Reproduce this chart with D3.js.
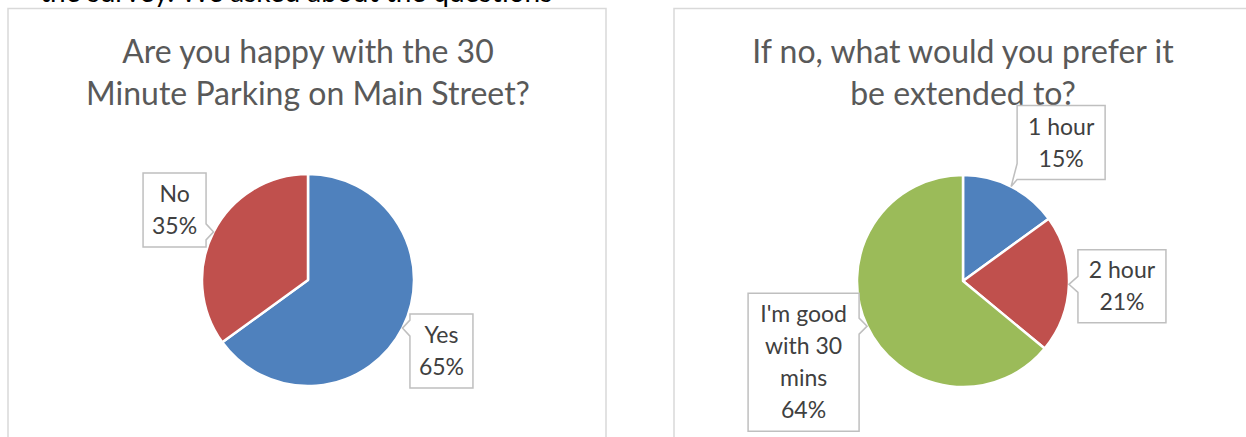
<!DOCTYPE html>
<html>
<head>
<meta charset="utf-8">
<script src="https://cdn.jsdelivr.net/npm/d3@7"></script>
<style>
  body { margin: 0; background: #fff; }
  svg { display: block; }
</style>
</head>
<body>
<script>
// chart data
const happyCategories = ["Yes", "No"];
const happyValues = [65, 35];
const extendCategories = ["1 hour", "2 hour", "I'm good with 30 mins"];
const extendValues = [15, 21, 64];
const extendLabelLines = [["1 hour"], ["2 hour"], ["I'm good", "with 30", "mins"]];
const sliceColors = ["#4f81bd", "#c0504d", "#9bbb59"];

const width = 1246, height = 437;

const svg = d3.select("body")
    .append("svg")
    .attr("width", width)
    .attr("height", height);

// cut-off text from the document above the charts
svg.append("text")
    .attr("x", 40)
    .attr("y", 2)
    .style("font-family", "Lato, 'Open Sans', sans-serif")
    .style("font-size", "28px")
    .style("fill", "#000")
    .text("the survey. We asked about the questions");

// panels: frame, center, title, label callouts
const panels = [
    {
        x: 8, w: 598,
        cx: 308, cy: 280,
        title: ["Are you happy with the 30", "Minute Parking on Main Street?"],
        categories: happyCategories,
        values: happyValues,
        lines: happyCategories.map(function(c) { return [c]; }),
        colors: [sliceColors[0], sliceColors[1]],
        boxes: [ {dx: 39, dy: 23, w: 63, h: 74}, {dx: -39, dy: -22, w: 63, h: 74} ]
    },
    {
        x: 674, w: 600,
        cx: 963, cy: 281,
        title: ["If no, what would you prefer it", "be extended to?"],
        categories: extendCategories,
        values: extendValues,
        lines: extendLabelLines,
        colors: sliceColors,
        boxes: [ {dx: 50, dy: -44, w: 88, h: 74}, {dx: 53, dy: 2, w: 88, h: 73}, {dx: -63.5, dy: 36, w: 111, h: 138} ]
    }
];

const radius = 106;

const pie = d3.pie()
    .sort(null)
    .value(function(d) { return d; });

const arc = d3.arc()
    .innerRadius(0)
    .outerRadius(radius);

// callout shape: box with a small notch pointing at the slice
function calloutPath(tx, ty, b) {
    const x0 = b.x, x1 = b.x + b.w, y0 = b.y, y1 = b.y + b.h;
    const n = 8;
    const clampY = function(v) { return Math.max(y0 + n, Math.min(y1 - n, v)); };
    const clampX = function(v) { return Math.max(x0 + n, Math.min(x1 - n, v)); };
    const p = d3.path();
    p.moveTo(x0, y0);
    if (ty < y0 && tx >= x0 && tx <= x1) {
        const c = clampX(tx);
        p.lineTo(c - n, y0); p.lineTo(tx, ty); p.lineTo(c + n, y0);
    }
    p.lineTo(x1, y0);
    if (tx > x1) {
        const c = clampY(ty);
        p.lineTo(x1, c - n); p.lineTo(tx, ty); p.lineTo(x1, c + n);
    }
    p.lineTo(x1, y1);
    if (ty > y1 && tx >= x0 && tx <= x1) {
        const c = clampX(tx);
        p.lineTo(c + n, y1); p.lineTo(tx, ty); p.lineTo(c - n, y1);
    }
    p.lineTo(x0, y1);
    if (tx < x0) {
        const c = clampY(ty);
        p.lineTo(x0, c + n); p.lineTo(tx, ty); p.lineTo(x0, c - n);
    }
    p.closePath();
    return p.toString();
}

panels.forEach(function(panel) {
    // frame
    svg.append("rect")
        .attr("x", panel.x)
        .attr("y", 8.5)
        .attr("width", panel.w)
        .attr("height", 460)
        .attr("fill", "none")
        .attr("stroke", "#d9d9d9")
        .attr("stroke-width", 1.5);

    // title
    svg.append("g")
        .selectAll("text")
        .data(panel.title)
        .enter()
        .append("text")
        .attr("x", panel.cx)
        .attr("y", function(d, i) { return 63 + i * 42; })
        .attr("text-anchor", "middle")
        .style("font-family", "Lato, 'Open Sans', sans-serif")
        .style("font-size", "32px")
        .style("fill", "#595959")
        .text(function(d) { return d; });

    const arcs = pie(panel.values);

    // slices
    const g = svg.append("g")
        .attr("transform", `translate(${panel.cx},${panel.cy})`);
    g.selectAll("path")
        .data(arcs)
        .enter()
        .append("path")
        .attr("d", arc)
        .attr("fill", function(d, i) { return panel.colors[i]; })
        .attr("stroke", "#fff")
        .attr("stroke-width", 2.5)
        .attr("stroke-linejoin", "round");

    // label callouts
    arcs.forEach(function(d, i) {
        const a = (d.startAngle + d.endAngle) / 2;
        const tx = panel.cx + radius * Math.sin(a);
        const ty = panel.cy - radius * Math.cos(a);
        const b = panel.boxes[i];
        const bx = tx + b.dx - b.w / 2, by = ty + b.dy - b.h / 2;

        svg.append("path")
            .attr("d", calloutPath(tx, ty, {x: bx, y: by, w: b.w, h: b.h}))
            .attr("fill", "#fff")
            .attr("stroke", "#bfbfbf")
            .attr("stroke-width", 1.5);

        const lines = panel.lines[i].concat([d.value + "%"]);
        svg.append("g")
            .selectAll("text")
            .data(lines)
            .enter()
            .append("text")
            .attr("x", bx + b.w / 2)
            .attr("y", function(t, j) { return by + b.h / 2 + (j - (lines.length - 1) / 2) * 32; })
            .attr("dy", "0.35em")
            .attr("text-anchor", "middle")
            .style("font-family", "Lato, 'Open Sans', sans-serif")
            .style("font-size", "23px")
            .style("fill", "#404040")
            .text(function(t) { return t; });
    });
});
</script>
</body>
</html>
